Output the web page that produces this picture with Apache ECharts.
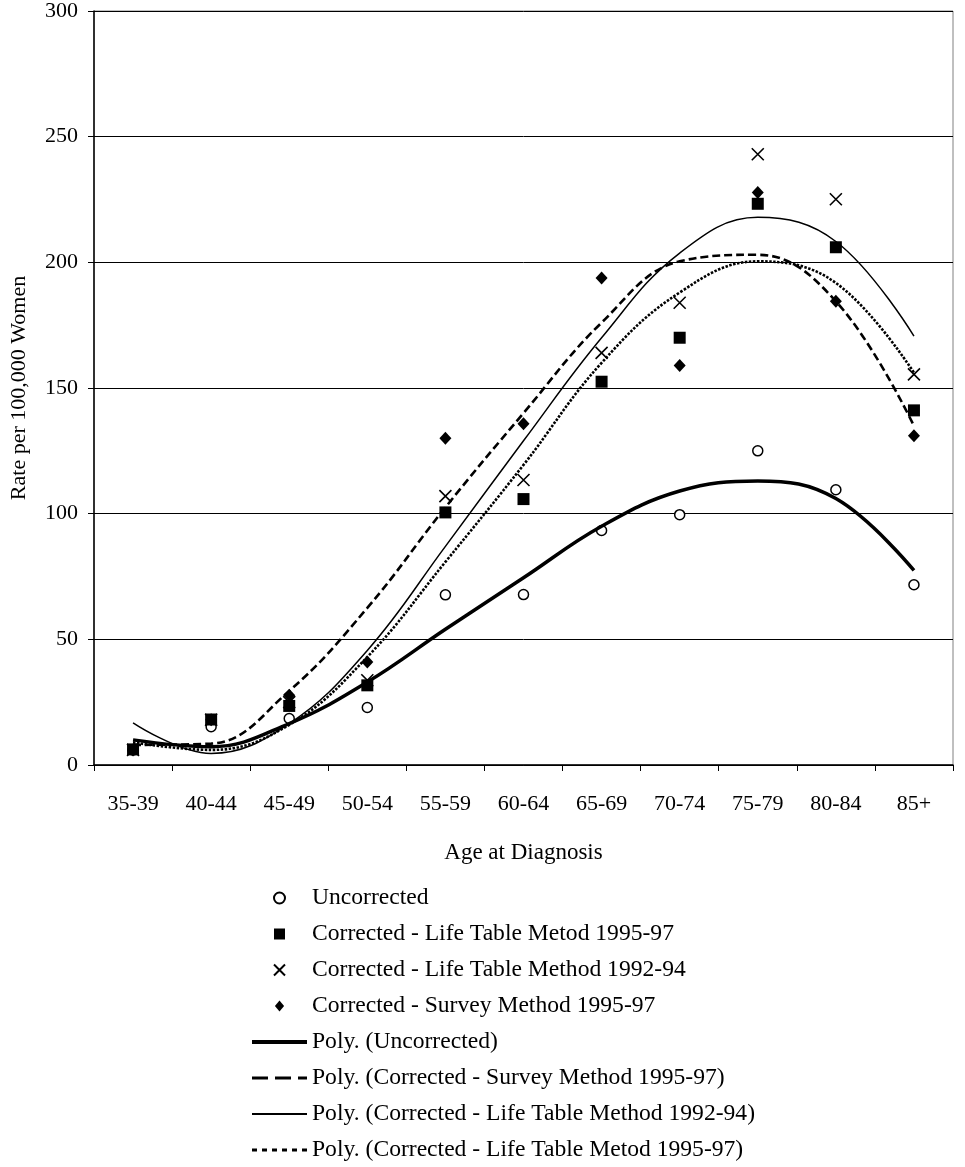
<!DOCTYPE html>
<html>
<head>
<meta charset="utf-8">
<script src="https://cdn.jsdelivr.net/npm/echarts@6/dist/echarts.min.js"></script>
<style>
html,body{margin:0;padding:0;background:#fff;}
#chart{width:965px;height:1167px;}
</style>
</head>
<body>
<div id="chart"></div>
<script>
const categories = ['35-39','40-44','45-49','50-54','55-59','60-64','65-69','70-74','75-79','80-84','85+'];
const yTicks = [0, 50, 100, 150, 200, 250, 300];

// observed points
const uncorrected = [6, 15.2, 18.5, 22.9, 67.7, 67.8, 93.3, 99.6, 125, 109.5, 71.7];
const lifeTable9597 = [6.2, 18.1, 23.5, 31.7, 100.5, 105.8, 152.5, 170, 223.3, 206, 141.1];
const lifeTable9294 = [6, 18, 25, 33.7, 107, 113.4, 164, 183.9, 243, 225.1, 155.4];
const survey9597 = [6, 18, 27.8, 41, 130, 135.8, 193.8, 159, 227.8, 184.5, 131];

// polynomial trend lines at each category
const polyUncorrected = [10, 7.3, 16.5, 33, 54, 74.5, 95, 109, 113, 106, 77.4];
const polySurvey9597 = [8, 8.5, 29.5, 62.5, 102.5, 140, 176, 200.4, 203, 184.5, 134.9];
const polyLifeTable9294 = [16.8, 4.6, 16.5, 45.6, 87, 129, 170, 203.7, 217.9, 208.3, 170.6];
const polyLifeTable9597 = [9, 6, 16, 43, 80.8, 119.4, 160, 188, 200.4, 191.8, 156.1];

const FONT = 'Liberation Serif';
const crossPath = 'path://M0,0L10,10M10,0L0,10';
const squarePath = 'path://M0,0L10,0L10,10L0,10Z';
const diamondPath = 'path://M5,0L10,6L5,12L0,6Z';

const names = {
  unc: 'Uncorrected',
  lt9597: 'Corrected - Life Table Metod 1995-97',
  lt9294: 'Corrected - Life Table Method 1992-94',
  sv: 'Corrected - Survey Method 1995-97',
  pUnc: 'Poly. (Uncorrected)',
  pSv: 'Poly. (Corrected - Survey Method 1995-97)',
  pLt9294: 'Poly. (Corrected - Life Table Method 1992-94)',
  pLt9597: 'Poly. (Corrected - Life Table Metod 1995-97)'
};

const chart = echarts.init(document.getElementById('chart'), null, {renderer: 'canvas'});

function scatter(name, data, symbol, size, style) {
  return {
    name: name, type: 'scatter', data: data, symbol: symbol, symbolSize: size,
    itemStyle: Object.assign({opacity: 1}, style), z: 3, silent: true
  };
}
function trend(name, data, width, type) {
  return {
    name: name, type: 'line', data: data, smooth: 0.4, symbol: 'none',
    lineStyle: {color: '#000', width: width, type: type},
    itemStyle: {color: '#000'}, z: 4, silent: true
  };
}
const hiddenDot = {color: 'rgba(0,0,0,0)', borderWidth: 0, opacity: 0};

const option = {
  animation: false,
  backgroundColor: '#fff',
  textStyle: {fontFamily: FONT, color: '#000'},
  grid: {
    left: 93, right: 12, top: 9, bottom: 402, show: true,
    borderColor: '#808080', borderWidth: 1, backgroundColor: 'transparent'
  },
  xAxis: {
    type: 'category', data: categories, boundaryGap: true,
    name: 'Age at Diagnosis', nameLocation: 'middle', nameGap: 76,
    nameTextStyle: {fontFamily: FONT, fontSize: 23, color: '#000'},
    axisLine: {show: true, lineStyle: {color: '#000', width: 1.5}},
    axisTick: {show: true, length: 6, lineStyle: {color: '#000', width: 1}},
    axisLabel: {margin: 28, fontFamily: FONT, fontSize: 22, color: '#000'},
    splitLine: {show: false}
  },
  yAxis: {
    type: 'value', min: yTicks[0], max: yTicks[yTicks.length - 1], interval: 50,
    name: 'Rate per 100,000 Women', nameLocation: 'middle', nameGap: 64, nameRotate: 90,
    nameTextStyle: {fontFamily: FONT, fontSize: 22, color: '#000'},
    axisLine: {show: true, lineStyle: {color: '#000', width: 1.5}},
    axisTick: {show: true, length: 6, lineStyle: {color: '#000', width: 1}},
    axisLabel: {margin: 16, fontFamily: FONT, fontSize: 22, color: '#000'},
    splitLine: {show: true, lineStyle: {color: '#000', width: 1}}
  },
  legend: {
    orient: 'vertical', left: 250, top: 885, padding: 0, height: 290,
    itemWidth: 55, itemHeight: 11, itemGap: 10,
    selectedMode: false,
    textStyle: {fontFamily: FONT, fontSize: 23.6, color: '#000', lineHeight: 26},
    data: [
      {name: names.unc},
      {name: names.lt9597},
      {name: names.lt9294},
      {name: names.sv},
      {name: names.pUnc, itemStyle: hiddenDot, lineStyle: {color: '#000', width: 4, type: 'solid'}},
      {name: names.pSv, itemStyle: hiddenDot, lineStyle: {color: '#000', width: 3, type: [16, 7]}},
      {name: names.pLt9294, itemStyle: hiddenDot, lineStyle: {color: '#000', width: 2, type: 'solid'}},
      {name: names.pLt9597, itemStyle: hiddenDot, lineStyle: {color: '#000', width: 3, type: [5, 5]}}
    ]
  },
  series: [
    scatter(names.unc, uncorrected, 'circle', 10, {color: '#fff', borderColor: '#000', borderWidth: 1.5}),
    scatter(names.lt9597, lifeTable9597, squarePath, 12, {color: '#000'}),
    scatter(names.lt9294, lifeTable9294, crossPath, 12, {color: '#000', borderColor: '#000', borderWidth: 1.6}),
    scatter(names.sv, survey9597, diamondPath, [12, 13], {color: '#000'}),
    trend(names.pUnc, polyUncorrected, 3.5, 'solid'),
    trend(names.pSv, polySurvey9597, 2.6, [8, 4]),
    trend(names.pLt9294, polyLifeTable9294, 1.5, 'solid'),
    trend(names.pLt9597, polyLifeTable9597, 2.6, [2.5, 1.5])
  ]
};
chart.setOption(option);
</script>
</body>
</html>
